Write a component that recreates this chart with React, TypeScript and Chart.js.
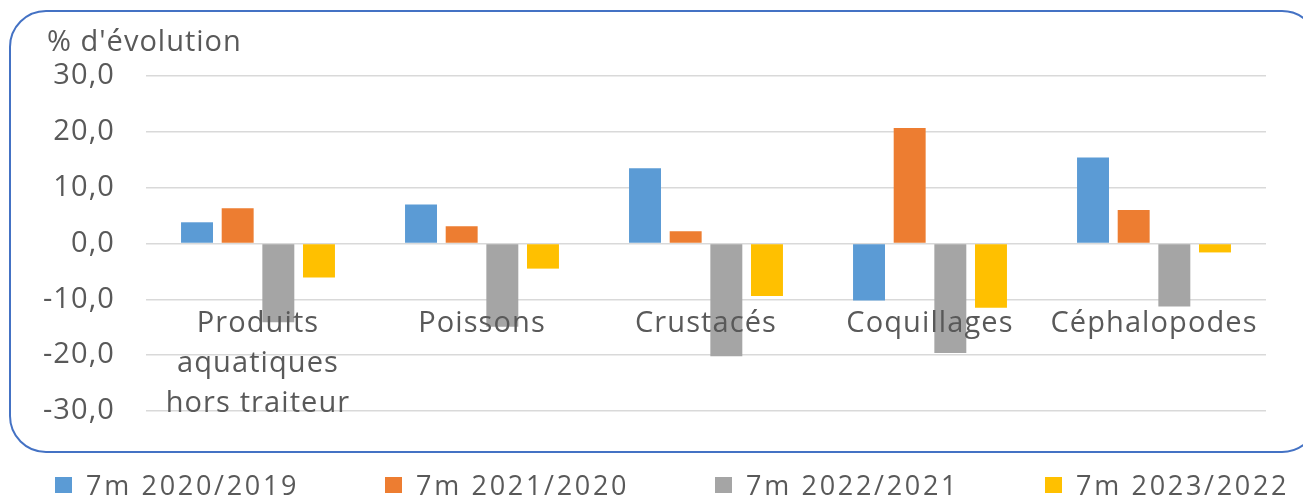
import React, { useEffect, useRef } from "react";
import { Chart, registerables } from "chart.js";

Chart.register(...registerables);

const categories: string[][] = [
  ["Produits", "aquatiques", "hors traiteur"],
  ["Poissons"],
  ["Crustacés"],
  ["Coquillages"],
  ["Céphalopodes"],
];

const seriesLabels = ["7m 2020/2019", "7m 2021/2020", "7m 2022/2021", "7m 2023/2022"];
const s2020 = [3.8, 7.0, 13.5, -10.2, 15.4];
const s2021 = [6.3, 3.1, 2.2, 20.7, 6.0];
const s2022 = [-14.1, -14.9, -20.2, -19.6, -11.3];
const s2023 = [-6.1, -4.5, -9.4, -11.5, -1.6];
const seriesColors = ["#5B9BD5", "#ED7D31", "#A5A5A5", "#FFC000"];
const yTicks = [-30, -20, -10, 0, 10, 20, 30];
const axisTitle = "% d'évolution";

const FONT = "'Open Sans', sans-serif";
const TEXT = "#595959";

export default function App() {
  const ref = useRef<HTMLCanvasElement | null>(null);
  useEffect(() => {
    if (!ref.current) return;
    const frame = {
      id: "frame",
      beforeDraw(chart: any) {
        const ctx = chart.ctx;
        ctx.save();
        ctx.fillStyle = "#ffffff";
        ctx.fillRect(0, 0, chart.width, chart.height);
        const x = 10, y = 11, w = 1308, h = 441, r = 36;
        ctx.beginPath();
        ctx.moveTo(x + r, y);
        ctx.lineTo(x + w - r, y);
        ctx.arcTo(x + w, y, x + w, y + r, r);
        ctx.lineTo(x + w, y + h - r);
        ctx.arcTo(x + w, y + h, x + w - r, y + h, r);
        ctx.lineTo(x + r, y + h);
        ctx.arcTo(x, y + h, x, y + h - r, r);
        ctx.lineTo(x, y + r);
        ctx.arcTo(x, y, x + r, y, r);
        ctx.closePath();
        ctx.strokeStyle = "#4472C4";
        ctx.lineWidth = 2;
        ctx.stroke();
        ctx.restore();
        (ctx as any).letterSpacing = "1.1px";
      },
      afterDraw(chart: any) {
        const ctx = chart.ctx;
        ctx.save();
        ctx.fillStyle = TEXT;
        ctx.font = `29px ${FONT}`;
        (ctx as any).letterSpacing = "1px";
        ctx.textBaseline = "middle";
        ctx.textAlign = "left";
        ctx.fillText(axisTitle, 47, 43);
        ctx.font = `27px ${FONT}`;
        (ctx as any).letterSpacing = "2.7px";
        chart.data.datasets.forEach((ds: any, i: number) => {
          const bx = 55 + i * 330;
          ctx.fillStyle = ds.backgroundColor;
          ctx.fillRect(bx, 477, 17, 16);
          ctx.fillStyle = TEXT;
          ctx.fillText(ds.label, bx + 31, 487);
        });
        ctx.restore();
      },
    };
    const chart = new Chart(ref.current, {
      type: "bar",
      data: {
        labels: categories,
        datasets: [s2020, s2021, s2022, s2023].map((d, i) => ({
          label: seriesLabels[i],
          data: d,
          backgroundColor: seriesColors[i],
          categoryPercentage: 0.726,
          barPercentage: 0.786,
        })),
      },
      options: {
        animation: false,
        responsive: false,
        maintainAspectRatio: false,
        layout: { padding: { top: 76, bottom: 91, right: 37, left: 0 } },
        plugins: { legend: { display: false }, tooltip: { enabled: false }, title: { display: false } },
        scales: {
          x: {
            position: { y: -10 } as any,
            z: 1,
            grid: { display: false, drawTicks: false },
            border: { display: false },
            ticks: {
              z: 1,
              autoSkip: false,
              maxRotation: 0,
              padding: 4,
              color: TEXT,
              font: { family: FONT, size: 29, lineHeight: 1.38 },
            } as any,
          },
          y: {
            min: -30,
            max: 30,
            afterFit(scale: any) {
              scale.width = 146;
            },
            afterBuildTicks(scale: any) {
              scale.ticks = yTicks.map((v) => ({ value: v }));
            },
            grid: { color: "#D9D9D9", lineWidth: 1.5, drawTicks: false },
            border: { display: false },
            ticks: {
              padding: 31,
              color: TEXT,
              font: { family: FONT, size: 29 },
              callback: (v: any) => Number(v).toFixed(1).replace(".", ","),
            },
          },
        },
      },
      plugins: [frame],
    });
    return () => chart.destroy();
  }, []);
  return (
    <div style={{ position: "absolute", left: 0, top: 0, width: 1303, height: 502 }}>
      <canvas ref={ref} width={1303} height={502} style={{ width: 1303, height: 502, display: "block" }} />
    </div>
  );
}
